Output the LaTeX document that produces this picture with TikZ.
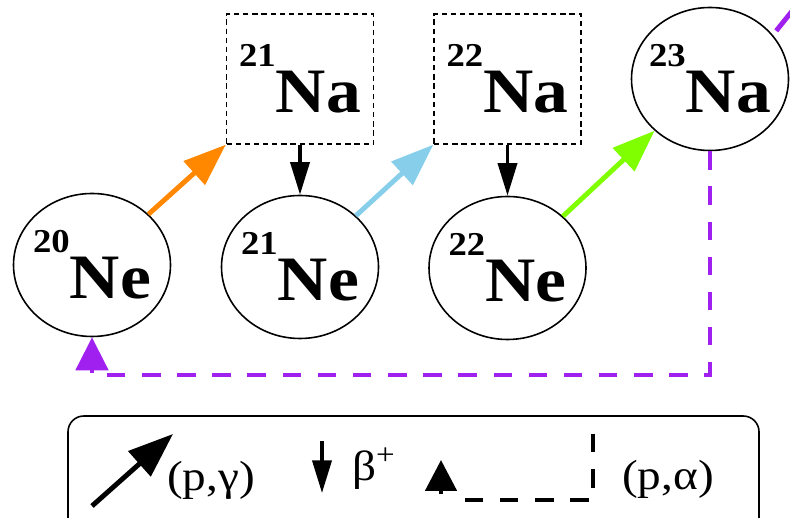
\documentclass[tikz,border=0pt]{standalone}
\usepackage{fontspec}
\setmainfont{Liberation Serif}
\usetikzlibrary{arrows.meta, shapes.geometric}
\definecolor{pgorange}{RGB}{255,136,0}
\definecolor{pgblue}{RGB}{135,206,235}
\definecolor{pggreen}{RGB}{127,255,0}
\definecolor{papurple}{RGB}{160,32,240}
\newcommand{\nuc}[2]{\scalebox{1.1}[1]{\bfseries\raisebox{26pt}{\fontsize{19}{19}\selectfont #1}\fontsize{36}{36}\selectfont #2}}
\newcommand{\legtext}[1]{\scalebox{1.12}[1]{\fontsize{24}{24}\selectfont #1}}

\begin{document}
\begin{tikzpicture}[
    nucl/.style={draw, ellipse, line width=0.9pt, minimum width=3.14cm, minimum height=2.86cm, inner sep=0pt},
    nucbox/.style={draw, line width=0.8pt, dash pattern=on 3pt off 2.2pt, minimum width=2.94cm, minimum height=2.6cm, inner sep=0pt},
    pg arrow/.style={line width=2.8pt, -{Triangle[length=0.85cm, width=0.62cm]}},
    beta arrow/.style={line width=2pt, -{Triangle[length=0.65cm, width=0.38cm]}},
    pa line/.style={line width=2.8pt, dash pattern=on 10.5pt off 9.5pt}]
    \useasboundingbox (0,0) rectangle (15.8,10.34);
    \clip (0,0) rectangle (15.8,10.34);

    % nuclei
    \node[nucl, label=center:{\nuc{20}{Ne}}] (ne20) at (1.84,5.04) {};
    \node[nucl, label=center:{\nuc{21}{Ne}}] (ne21) at (6.0,5.0) {};
    \node[nucl, label=center:{\nuc{22}{Ne}}] (ne22) at (10.15,4.98) {};
    \node[nucl, label=center:{\nuc{23}{Na}}] (na23) at (14.2,8.76) {};
    \node[nucbox, label=center:{\nuc{21}{Na}}] (na21) at (6.0,8.76) {};
    \node[nucbox, label=center:{\nuc{22}{Na}}] (na22) at (10.15,8.76) {};
    \coordinate (mg24) at (16.34,10.74);
    \coordinate (paturn) at (0,2.84);

    % (p,gamma) captures
    \draw[pg arrow, pgorange] (ne20) -- (na21.south west);
    \draw[pg arrow, pgblue] (ne21) -- (na22.south west);
    \draw[pg arrow, pggreen] (ne22) -- (na23);
    \draw[papurple, line width=2.8pt, shorten <=3pt] (na23.35) -- (mg24);

    % beta+ decays
    \draw[beta arrow] (na21) -- (ne21);
    \draw[beta arrow] (na22) -- (ne22);

    % (p,alpha) back to 20Ne
    \draw[pa line, papurple, -{Triangle[length=0.66cm, width=0.64cm]}]
      (na23.south) -- (na23.south |- paturn) -| (ne20.south);

    % legend
    \draw[line width=0.9pt, rounded corners=9pt] (1.36,-0.6) rectangle (15.18,2.02);
    \coordinate (pgfrom) at (1.84,0.22);
    \coordinate (pgto) at (3.46,1.66);
    \draw[line width=2.8pt, -{Triangle[length=0.9cm, width=0.66cm]}] (pgfrom) -- (pgto);
    \node (pgtext) at (4.22,0.74) {\legtext{(p,γ)}};
    \coordinate (betafrom) at (6.44,1.52);
    \coordinate (betato) at (6.44,0.48);
    \draw[beta arrow] (betafrom) -- (betato);
    \node (betatext) at (7.48,0.96) {\legtext{β\textsuperscript{+}}};
    \coordinate (pafrom) at (8.82,0.46);
    \coordinate (pato) at (8.82,1.14);
    \draw[line width=2.8pt, -{Triangle[length=0.62cm, width=0.62cm]}] (pafrom) -- (pato);
    \coordinate (patop) at (11.86,1.66);
    \coordinate (paend) at (9.06,0.34);
    \draw[pa line] (patop) |- (paend);
    \node (patext) at (13.36,0.76) {\legtext{(p,α)}};
  \end{tikzpicture}
\end{document}
